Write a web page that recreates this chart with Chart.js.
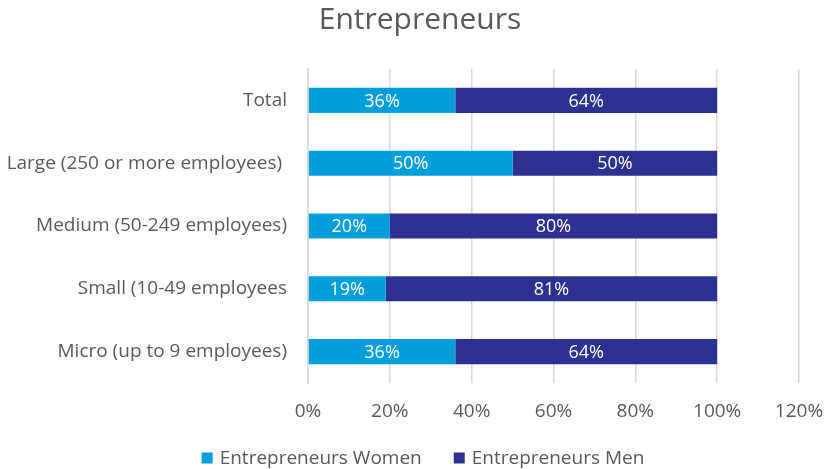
<!DOCTYPE html>
<html>
<head>
<meta charset="utf-8">
<script src="https://cdn.jsdelivr.net/npm/chart.js@4"></script>
<style>
  html, body { margin: 0; padding: 0; background: #fff; }
  #wrap { width: 825px; height: 469px; }
</style>
</head>
<body>
<div id="wrap"><canvas id="chart" width="825" height="469"></canvas></div>
<script>
// Categorie e valori (percentuali)
const categories = [
    'Total',
    'Large (250 or more employees) ',
    'Medium (50-249 employees)',
    'Small (10-49 employees',
    'Micro (up to 9 employees)'
];
const women = [36, 50, 20, 19, 36];
const men = [64, 50, 80, 81, 64];
const xTicks = [0, 20, 40, 60, 80, 100, 120];
const chartTitle = 'Entrepreneurs';

const FONT = "'Open Sans', 'Liberation Sans', sans-serif";
const TEXT_COLOR = '#595959';
const GRID_COLOR = '#d9d9d9';

// Etichette dei valori dentro le barre
const barLabels = {
    id: 'barLabels',
    afterDatasetsDraw(chart) {
        const ctx = chart.ctx;
        ctx.save();
        ctx.fillStyle = '#ffffff';
        ctx.font = `18px ${FONT}`;
        ctx.textAlign = 'center';
        ctx.textBaseline = 'middle';
        chart.data.datasets.forEach((ds, i) => {
            chart.getDatasetMeta(i).data.forEach((bar, j) => {
                const mid = (bar.x + bar.base) / 2;
                ctx.fillText(ds.data[j] + '%', mid, bar.y + 1);
            });
        });
        ctx.restore();
    }
};

// Titolo e legenda disegnati a mano (titolo in alto, legenda in fondo)
const titleAndLegend = {
    id: 'titleAndLegend',
    afterDraw(chart) {
        const ctx = chart.ctx;
        ctx.save();

        ctx.font = `30px ${FONT}`;
        ctx.fillStyle = TEXT_COLOR;
        ctx.textAlign = 'center';
        ctx.textBaseline = 'middle';
        ctx.fillText(chartTitle, 420, 20);

        const box = 11, gap = 7, spacing = 32, y = 458;
        ctx.font = `19px ${FONT}`;
        ctx.textAlign = 'left';
        const items = chart.data.datasets.map(ds => ({
            text: ds.label,
            color: ds.backgroundColor,
            w: ctx.measureText(ds.label).width
        }));
        const total = items.reduce((s, it) => s + box + gap + it.w, 0) + spacing * (items.length - 1);
        let x = 423 - total / 2;
        items.forEach(it => {
            ctx.fillStyle = it.color;
            ctx.fillRect(x, y - box / 2, box, box);
            x += box + gap;
            ctx.fillStyle = TEXT_COLOR;
            ctx.fillText(it.text, x, y + 1);
            x += it.w + spacing;
        });
        ctx.restore();
    }
};

new Chart(document.getElementById('chart'), {
    type: 'bar',
    data: {
        labels: categories,
        datasets: [
            {
                label: 'Entrepreneurs Women',
                data: women,
                backgroundColor: '#009fdb',
                barPercentage: 0.4,
                categoryPercentage: 1
            },
            {
                label: 'Entrepreneurs Men',
                data: men,
                backgroundColor: '#2e3192',
                barPercentage: 0.4,
                categoryPercentage: 1
            }
        ]
    },
    options: {
        indexAxis: 'y',
        responsive: false,
        animation: false,
        layout: { padding: { left: 0, right: 26, top: 69, bottom: 50 } },
        plugins: {
            title: { display: false },
            legend: { display: false },
            tooltip: { enabled: false }
        },
        scales: {
            x: {
                stacked: true,
                min: 0,
                max: 120,
                afterBuildTicks: (scale) => {
                    scale.ticks = xTicks.map(v => ({ value: v }));
                },
                afterFit: (scale) => {
                    scale.height = 36;
                    scale.paddingRight = 0;
                    scale.paddingLeft = 0;
                },
                ticks: {
                    color: TEXT_COLOR,
                    font: { family: FONT, size: 19 },
                    padding: 17,
                    callback: (v) => v + '%'
                },
                grid: { color: GRID_COLOR, lineWidth: 1.5, drawTicks: false },
                border: { display: false }
            },
            y: {
                stacked: true,
                afterFit: (scale) => { scale.width = 308; },
                ticks: {
                    color: TEXT_COLOR,
                    font: { family: FONT, size: 19 },
                    padding: 21
                },
                grid: { display: false, drawTicks: false },
                border: { color: GRID_COLOR, width: 1.5 }
            }
        }
    },
    plugins: [barLabels, titleAndLegend]
});
</script>
</body>
</html>
